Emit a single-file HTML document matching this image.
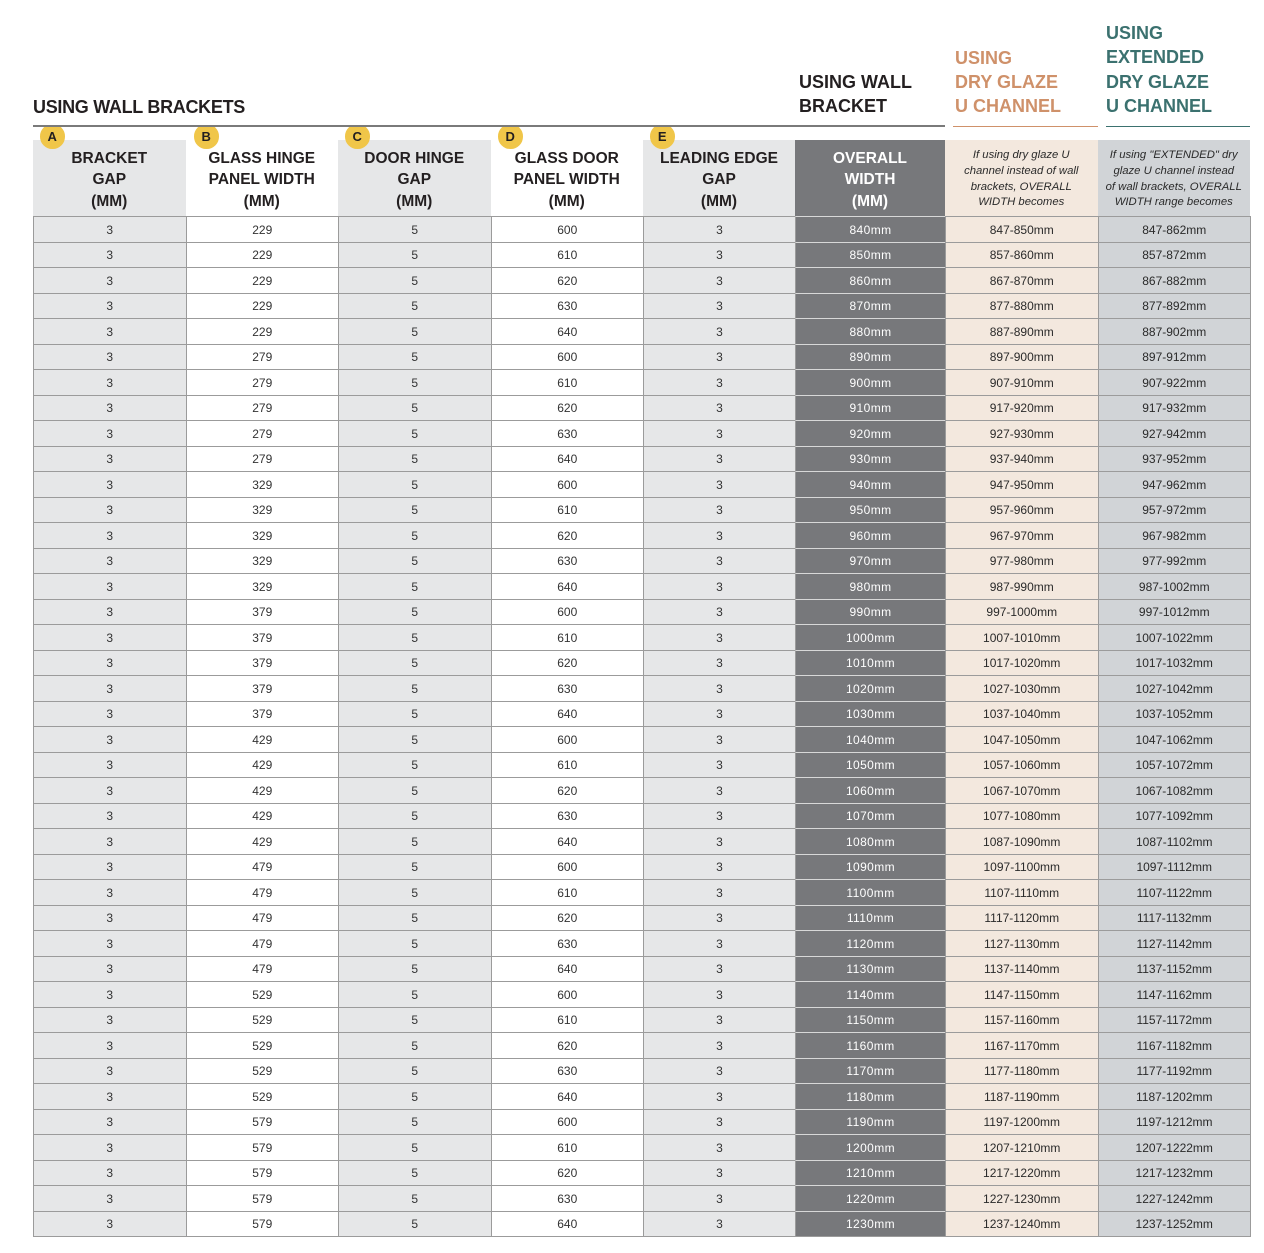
<!DOCTYPE html>
<html><head><meta charset="utf-8">
<style>
html,body{margin:0;padding:0;background:#fff;}
body{width:1264px;height:1253px;position:relative;overflow:hidden;font-family:"Liberation Sans",Arial,sans-serif;color:#231f20;}
.t{position:absolute;font-weight:bold;font-size:18px;line-height:24.4px;white-space:nowrap;}
.ln{position:absolute;}
.cols{display:grid;grid-template-columns:152.5px 152.5px 152.5px 152.5px 152px 150px 152.5px 152.5px;}
.h{position:absolute;left:33px;top:140px;height:76px;}
.h>div{box-sizing:border-box;height:76px;display:flex;align-items:center;justify-content:center;text-align:center;font-weight:bold;font-size:15.5px;line-height:21.5px;color:#231f20;padding-top:4px;}
.h>div:nth-child(1),.h>div:nth-child(3),.h>div:nth-child(5){background:#e6e7e8;}
.h>div:nth-child(6){background:#77787b;color:#fff;}
.h>div:nth-child(7){background:#f3e8de;}
.h>div:nth-child(8){background:#d1d4d7;}
.h .it{font-weight:normal;font-style:italic;font-size:11.3px;line-height:15.7px;color:#2a2a2a;padding-top:3px;}
.g{position:absolute;left:33px;top:216px;grid-auto-rows:25.5px;border-right:1px solid #9b9b9b;border-bottom:1px solid #9b9b9b;}
.g>div{box-sizing:border-box;border-top:1px solid #9b9b9b;border-left:1px solid #9b9b9b;display:flex;align-items:center;justify-content:center;font-size:12px;color:#333;padding-top:1px;}
.g>div:nth-child(8n+1),.g>div:nth-child(8n+3),.g>div:nth-child(8n+5){background:#e6e7e8;}
.g>div:nth-child(8n+6){background:#77787b;color:#fff;border-top-color:#d8d8d8;letter-spacing:0.4px;}
.g>div:nth-child(8n+7){background:#f3e8de;color:#2a2a2a;}
.g>div:nth-child(8n){background:#d1d4d7;color:#2a2a2a;}
.bw{position:absolute;top:127px;width:25px;height:22px;overflow:hidden;}
.bw b{position:absolute;left:0;top:-3px;width:24.5px;height:24.5px;border-radius:50%;background:#f0c649;font-size:13px;line-height:25px;text-align:center;color:#231f20;}
</style></head><body>

<div class="t" style="left:33px;top:94.5px;letter-spacing:-0.3px;">USING WALL BRACKETS</div>
<div class="t" style="left:799px;top:70px;">USING WALL<br>BRACKET</div>
<div class="t" style="left:955px;top:45.5px;color:#cf916a;">USING<br>DRY GLAZE<br>U CHANNEL</div>
<div class="t" style="left:1106px;top:21px;color:#3b716f;">USING<br>EXTENDED<br>DRY GLAZE<br>U CHANNEL</div>

<div class="ln" style="left:33px;top:125px;width:912px;height:2px;background:#7a7a7a;"></div>
<div class="ln" style="left:953px;top:125.5px;width:145px;height:1.6px;background:#cf916a;"></div>
<div class="ln" style="left:1106px;top:125.5px;width:144px;height:1.6px;background:#3b716f;"></div>

<div class="h cols">
<div>BRACKET<br>GAP<br>(MM)</div>
<div>GLASS HINGE<br>PANEL WIDTH<br>(MM)</div>
<div>DOOR HINGE<br>GAP<br>(MM)</div>
<div>GLASS DOOR<br>PANEL WIDTH<br>(MM)</div>
<div>LEADING EDGE<br>GAP<br>(MM)</div>
<div>OVERALL<br>WIDTH<br>(MM)</div>
<div class="it">If using dry glaze U<br>channel instead of wall<br>brackets, OVERALL<br>WIDTH becomes</div>
<div class="it">If using "EXTENDED" dry<br>glaze U channel instead<br>of wall brackets, OVERALL<br>WIDTH range becomes</div>
</div>

<div class="bw" style="left:40px;"><b>A</b></div>
<div class="bw" style="left:194px;"><b>B</b></div>
<div class="bw" style="left:345px;"><b>C</b></div>
<div class="bw" style="left:498px;"><b>D</b></div>
<div class="bw" style="left:650px;"><b>E</b></div>

<div class="g cols">
<div>3</div><div>229</div><div>5</div><div>600</div><div>3</div><div>840mm</div><div>847-850mm</div><div>847-862mm</div>
<div>3</div><div>229</div><div>5</div><div>610</div><div>3</div><div>850mm</div><div>857-860mm</div><div>857-872mm</div>
<div>3</div><div>229</div><div>5</div><div>620</div><div>3</div><div>860mm</div><div>867-870mm</div><div>867-882mm</div>
<div>3</div><div>229</div><div>5</div><div>630</div><div>3</div><div>870mm</div><div>877-880mm</div><div>877-892mm</div>
<div>3</div><div>229</div><div>5</div><div>640</div><div>3</div><div>880mm</div><div>887-890mm</div><div>887-902mm</div>
<div>3</div><div>279</div><div>5</div><div>600</div><div>3</div><div>890mm</div><div>897-900mm</div><div>897-912mm</div>
<div>3</div><div>279</div><div>5</div><div>610</div><div>3</div><div>900mm</div><div>907-910mm</div><div>907-922mm</div>
<div>3</div><div>279</div><div>5</div><div>620</div><div>3</div><div>910mm</div><div>917-920mm</div><div>917-932mm</div>
<div>3</div><div>279</div><div>5</div><div>630</div><div>3</div><div>920mm</div><div>927-930mm</div><div>927-942mm</div>
<div>3</div><div>279</div><div>5</div><div>640</div><div>3</div><div>930mm</div><div>937-940mm</div><div>937-952mm</div>
<div>3</div><div>329</div><div>5</div><div>600</div><div>3</div><div>940mm</div><div>947-950mm</div><div>947-962mm</div>
<div>3</div><div>329</div><div>5</div><div>610</div><div>3</div><div>950mm</div><div>957-960mm</div><div>957-972mm</div>
<div>3</div><div>329</div><div>5</div><div>620</div><div>3</div><div>960mm</div><div>967-970mm</div><div>967-982mm</div>
<div>3</div><div>329</div><div>5</div><div>630</div><div>3</div><div>970mm</div><div>977-980mm</div><div>977-992mm</div>
<div>3</div><div>329</div><div>5</div><div>640</div><div>3</div><div>980mm</div><div>987-990mm</div><div>987-1002mm</div>
<div>3</div><div>379</div><div>5</div><div>600</div><div>3</div><div>990mm</div><div>997-1000mm</div><div>997-1012mm</div>
<div>3</div><div>379</div><div>5</div><div>610</div><div>3</div><div>1000mm</div><div>1007-1010mm</div><div>1007-1022mm</div>
<div>3</div><div>379</div><div>5</div><div>620</div><div>3</div><div>1010mm</div><div>1017-1020mm</div><div>1017-1032mm</div>
<div>3</div><div>379</div><div>5</div><div>630</div><div>3</div><div>1020mm</div><div>1027-1030mm</div><div>1027-1042mm</div>
<div>3</div><div>379</div><div>5</div><div>640</div><div>3</div><div>1030mm</div><div>1037-1040mm</div><div>1037-1052mm</div>
<div>3</div><div>429</div><div>5</div><div>600</div><div>3</div><div>1040mm</div><div>1047-1050mm</div><div>1047-1062mm</div>
<div>3</div><div>429</div><div>5</div><div>610</div><div>3</div><div>1050mm</div><div>1057-1060mm</div><div>1057-1072mm</div>
<div>3</div><div>429</div><div>5</div><div>620</div><div>3</div><div>1060mm</div><div>1067-1070mm</div><div>1067-1082mm</div>
<div>3</div><div>429</div><div>5</div><div>630</div><div>3</div><div>1070mm</div><div>1077-1080mm</div><div>1077-1092mm</div>
<div>3</div><div>429</div><div>5</div><div>640</div><div>3</div><div>1080mm</div><div>1087-1090mm</div><div>1087-1102mm</div>
<div>3</div><div>479</div><div>5</div><div>600</div><div>3</div><div>1090mm</div><div>1097-1100mm</div><div>1097-1112mm</div>
<div>3</div><div>479</div><div>5</div><div>610</div><div>3</div><div>1100mm</div><div>1107-1110mm</div><div>1107-1122mm</div>
<div>3</div><div>479</div><div>5</div><div>620</div><div>3</div><div>1110mm</div><div>1117-1120mm</div><div>1117-1132mm</div>
<div>3</div><div>479</div><div>5</div><div>630</div><div>3</div><div>1120mm</div><div>1127-1130mm</div><div>1127-1142mm</div>
<div>3</div><div>479</div><div>5</div><div>640</div><div>3</div><div>1130mm</div><div>1137-1140mm</div><div>1137-1152mm</div>
<div>3</div><div>529</div><div>5</div><div>600</div><div>3</div><div>1140mm</div><div>1147-1150mm</div><div>1147-1162mm</div>
<div>3</div><div>529</div><div>5</div><div>610</div><div>3</div><div>1150mm</div><div>1157-1160mm</div><div>1157-1172mm</div>
<div>3</div><div>529</div><div>5</div><div>620</div><div>3</div><div>1160mm</div><div>1167-1170mm</div><div>1167-1182mm</div>
<div>3</div><div>529</div><div>5</div><div>630</div><div>3</div><div>1170mm</div><div>1177-1180mm</div><div>1177-1192mm</div>
<div>3</div><div>529</div><div>5</div><div>640</div><div>3</div><div>1180mm</div><div>1187-1190mm</div><div>1187-1202mm</div>
<div>3</div><div>579</div><div>5</div><div>600</div><div>3</div><div>1190mm</div><div>1197-1200mm</div><div>1197-1212mm</div>
<div>3</div><div>579</div><div>5</div><div>610</div><div>3</div><div>1200mm</div><div>1207-1210mm</div><div>1207-1222mm</div>
<div>3</div><div>579</div><div>5</div><div>620</div><div>3</div><div>1210mm</div><div>1217-1220mm</div><div>1217-1232mm</div>
<div>3</div><div>579</div><div>5</div><div>630</div><div>3</div><div>1220mm</div><div>1227-1230mm</div><div>1227-1242mm</div>
<div>3</div><div>579</div><div>5</div><div>640</div><div>3</div><div>1230mm</div><div>1237-1240mm</div><div>1237-1252mm</div>
</div>

</body></html>
